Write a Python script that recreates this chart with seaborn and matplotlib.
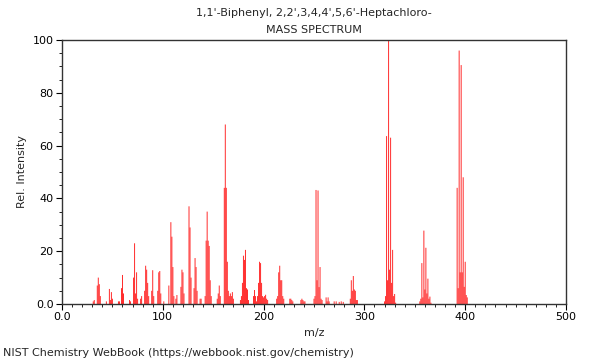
import matplotlib
matplotlib.use("Agg")
import matplotlib.pyplot as plt
from matplotlib.ticker import MultipleLocator, FixedFormatter, FixedLocator
import seaborn as sns
import pandas as pd

title_lines = ["1,1'-Biphenyl, 2,2',3,4,4',5,6'-Heptachloro-", "MASS SPECTRUM"]
x_label = "m/z"
y_label = "Rel. Intensity"
footer = "NIST Chemistry WebBook (https://webbook.nist.gov/chemistry)"

mz = [31, 32, 35, 36, 37, 38, 44, 47, 48, 49, 50, 56, 57,
      59, 60, 61, 67, 68, 71, 72, 73, 74, 75, 78, 79,
      82, 83, 84, 85, 86, 89, 90, 91, 95, 96, 97, 98, 101,
      106, 108, 109, 110, 111, 113, 114, 118, 119, 120, 121,
      126, 127, 128, 131, 132, 133, 134, 137, 138,
      142, 143, 144, 145, 146, 147, 148, 154, 155, 156, 157,
      161, 162, 163, 164, 165, 166, 167, 168, 169, 170,
      177, 178, 179, 180, 181, 182, 183, 184, 185,
      190, 191, 192, 193, 194, 195, 196, 197, 198, 199, 200, 201, 202, 203, 204,
      213, 214, 215, 216, 217, 218, 219, 220,
      226, 227, 228, 229, 237, 238, 239, 240, 241,
      250, 251, 252, 253, 254, 255, 256, 257, 258,
      262, 263, 264, 265, 270, 272, 275, 277, 279,
      286, 287, 288, 289, 290, 291, 292, 293,
      320, 321, 322, 323, 324, 325, 326, 327, 328, 329, 330, 331,
      355, 356, 357, 358, 359, 360, 361, 362, 363, 364, 365, 366,
      392, 393, 394, 395, 396, 397, 398, 399, 400, 401, 402]
intensity = [1, 1.5, 7, 10, 7.5, 3, 1, 5.7, 1.5, 4.5, 2, 1, 1,
             6, 11, 4, 1.5, 1, 10, 23, 4, 12, 2, 2, 3,
             5, 14.5, 13, 8, 3, 5, 12.8, 3, 5, 12, 12.5, 4, 1,
             7, 31, 25.5, 14, 3, 2, 3.4, 6.5, 13, 12, 4,
             37, 29, 10, 6, 17.4, 14, 5, 2, 2,
             3, 24, 35, 24, 22, 9, 3, 2, 4, 7, 3,
             44, 68, 44, 16, 5, 3, 4, 3, 4.5, 2,
             1.5, 3, 8, 18.3, 16.7, 20.5, 6, 5.5, 1.5,
             3, 5.3, 3, 1, 3, 8, 16, 15.5, 8, 3, 2.5, 3, 3.5, 2, 1.5,
             2, 3, 12, 14.5, 9, 9, 3, 2,
             2, 2, 1.5, 1, 1.5, 2, 1.5, 1, 1,
             2, 3, 43.2, 9, 43, 6.4, 14, 2, 1.5,
             2.5, 1, 2.5, 1, 1, 1, 0.8, 1, 0.8,
             2, 9, 5, 10.6, 5.5, 5, 1.5, 1.5,
             1, 3, 63.6, 9, 100, 13, 63, 8, 20.5, 3, 3.8, 0.5,
             1, 2, 15.5, 2.5, 27.8, 5.5, 21.3, 4, 9.6, 2, 2.8, 0.5,
             44, 6, 96, 12, 90.5, 12, 48, 6.5, 16, 3.4, 2.5]

df = pd.DataFrame({"mz": mz, "intensity": intensity})

sns.set_style("ticks")
plt.rcParams["font.family"] = ["DejaVu Sans"]

fig = plt.figure(figsize=(6, 3.6), dpi=100)
ax = fig.add_axes([62 / 600, 1 - 304 / 360, 504 / 600, 264 / 360])

sns.histplot(data=df, x="mz", weights="intensity", discrete=True, shrink=0.95,
             color="#ff0000", alpha=0.85, edgecolor="none", linewidth=0,
             snap=False, ax=ax)

ax.set_xlim(0, 500)
ax.set_ylim(0, 100)
ax.xaxis.set_major_locator(FixedLocator([0, 100, 200, 300, 400, 500]))
ax.xaxis.set_major_formatter(FixedFormatter(["0.0", "100", "200", "300", "400", "500"]))
ax.xaxis.set_minor_locator(MultipleLocator(10))
ax.yaxis.set_major_locator(FixedLocator([0, 20, 40, 60, 80, 100]))
ax.yaxis.set_major_formatter(FixedFormatter(["0.0", "20", "40", "60", "80", "100"]))
ax.yaxis.set_minor_locator(MultipleLocator(5))
ax.tick_params(axis="both", which="major", direction="out", length=4, width=0.8,
               labelsize=8, colors="black", pad=2)
ax.tick_params(axis="both", which="minor", direction="out", length=2, width=0.6, colors="black")

for s in ["top", "right", "bottom", "left"]:
    ax.spines[s].set_visible(True)
    ax.spines[s].set_color("#333333")
    ax.spines[s].set_linewidth(1.0)

ax.set_xlabel(x_label, fontsize=8, labelpad=4)
ax.set_ylabel(y_label, fontsize=8, labelpad=4)

fig.text(314 / 600, 1 - 13 / 360, title_lines[0], ha="center", va="center", fontsize=8)
fig.text(314 / 600, 1 - 30 / 360, title_lines[1], ha="center", va="center", fontsize=8)
fig.text(3 / 600, 1 - 353 / 360, footer, ha="left", va="center", fontsize=8)

fig.savefig("out.png", dpi=100, facecolor="white")
